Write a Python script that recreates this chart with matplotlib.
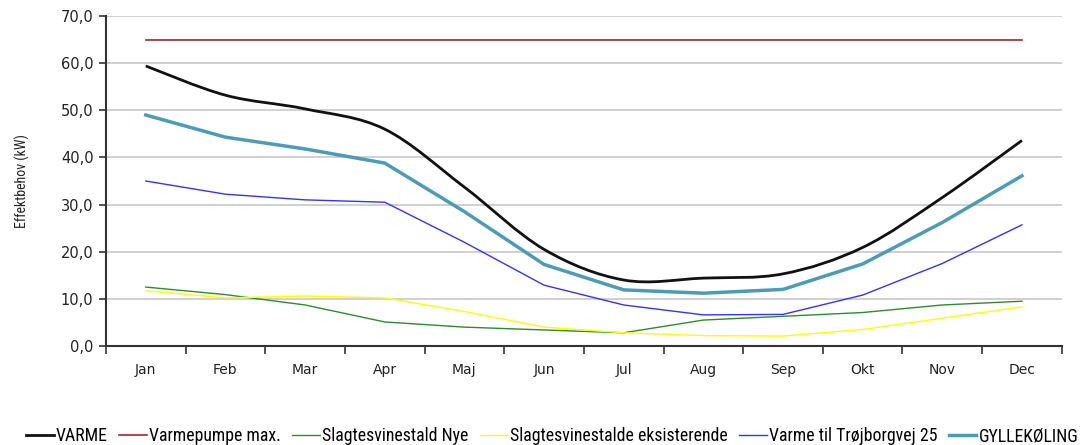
import numpy as np
import matplotlib
matplotlib.use('Agg')
import matplotlib.pyplot as plt
from matplotlib.path import Path
from matplotlib.patches import PathPatch
from matplotlib.lines import Line2D
from matplotlib.ticker import FuncFormatter, MultipleLocator
from matplotlib import font_manager

months = ['Jan', 'Feb', 'Mar', 'Apr', 'Maj', 'Jun', 'Jul', 'Aug', 'Sep', 'Okt', 'Nov', 'Dec']

varme = [59.4, 53.2, 50.3, 46.0, 33.7, 20.5, 14.0, 14.4, 15.3, 20.9, 31.5, 43.6]
varmepumpe = [65.0] * 12
slagt_nye = [12.5, 10.9, 8.7, 5.1, 4.0, 3.4, 2.8, 5.5, 6.3, 7.1, 8.7, 9.5]
slagt_eks = [11.7, 10.2, 10.6, 10.2, 7.3, 4.0, 2.8, 2.2, 2.1, 3.5, 5.9, 8.3]
trojborg = [35.0, 32.2, 31.0, 30.5, 22.0, 12.9, 8.7, 6.6, 6.7, 10.8, 17.5, 25.7]
gylle = [49.0, 44.3, 41.8, 38.8, 28.5, 17.3, 11.9, 11.2, 12.0, 17.4, 26.2, 36.1]

c_varme = '#111111'
c_pumpe = '#a0282b'
c_nye = '#2e8b2e'
c_eks = '#ffff00'
c_trojborg = '#3333ff'
c_gylle = '#4a9db5'

# narrow font for the legend if there is one
names = {f.name for f in font_manager.fontManager.ttflist}
narrow = [n for n in ['Liberation Sans Narrow', 'DejaVu Sans Condensed', 'Roboto Condensed'] if n in names]
fam = [narrow[0], 'DejaVu Sans'] if narrow else ['DejaVu Sans']

fig = plt.figure(figsize=(10.89, 4.45), dpi=100)
ax = fig.add_axes([0.0973, 0.2225, 0.8777, 0.7415])

x = np.arange(len(months))


def smooth_path(xs, ys):
    # Excel style smoothed line (Catmull-Rom as bezier)
    pts = np.column_stack([xs, ys]).astype(float)
    verts = [pts[0]]
    codes = [Path.MOVETO]
    n = len(pts)
    for i in range(n - 1):
        p0 = pts[i - 1] if i > 0 else pts[i]
        p1 = pts[i]
        p2 = pts[i + 1]
        p3 = pts[i + 2] if i + 2 < n else pts[i + 1]
        c1 = p1 + (p2 - p0) / 6.0
        c2 = p2 - (p3 - p1) / 6.0
        verts += [c1, c2, p2]
        codes += [Path.CURVE4] * 3
    return Path(verts, codes)


ax.plot(x, varmepumpe, color=c_pumpe, lw=1.2, zorder=3)
ax.plot(x, slagt_nye, color=c_nye, lw=1.0, zorder=3)
ax.plot(x, slagt_eks, color=c_eks, lw=1.0, zorder=3)
ax.plot(x, trojborg, color=c_trojborg, lw=1.0, zorder=3)
ax.plot(x, gylle, color=c_gylle, lw=2.5, zorder=3)
ax.add_patch(PathPatch(smooth_path(x, varme), facecolor='none', edgecolor=c_varme, lw=2.0, zorder=4))

ax.set_xlim(-0.5, 11.5)
ax.set_ylim(0, 70)
ax.yaxis.set_major_locator(MultipleLocator(10))
ax.yaxis.set_major_formatter(FuncFormatter(lambda v, p: f'{v:.1f}'.replace('.', ',')))
ax.set_xticks(np.arange(-0.5, 12, 1.0))
ax.set_xticklabels([])
ax.set_xticks(x, minor=True)
ax.set_xticklabels(months, minor=True)
ax.tick_params(axis='x', which='major', length=6, width=1.2, color='#333333', direction='out')
ax.tick_params(axis='x', which='minor', length=0, pad=12, labelsize=10, labelcolor='#222222')
ax.tick_params(axis='y', length=5, width=1.2, color='#333333', labelsize=10.5, labelcolor='#222222', pad=4)

ax.grid(axis='y', color='#c8c8c8', lw=1.2)
ax.set_axisbelow(True)
for s in ['top', 'right']:
    ax.spines[s].set_visible(False)
for s in ['left', 'bottom']:
    ax.spines[s].set_color('#333333')
    ax.spines[s].set_linewidth(1.5)

ax.set_ylabel('Effektbehov (kW)', fontsize=10, color='#222222', labelpad=22, family=fam)

handles = [
    Line2D([], [], color=c_varme, lw=2.0),
    Line2D([], [], color=c_pumpe, lw=1.2),
    Line2D([], [], color=c_nye, lw=1.0),
    Line2D([], [], color=c_eks, lw=1.0),
    Line2D([], [], color=c_trojborg, lw=1.0),
    Line2D([], [], color=c_gylle, lw=2.5),
]
labels = ['VARME', 'Varmepumpe max.', 'Slagtesvinestald Nye', 'Slagtesvinestalde eksisterende',
          'Varme til Trøjborgvej 25', 'GYLLEKØLING']
fig.legend(handles, labels, loc='center', bbox_to_anchor=(0.507, 0.02), ncol=6, frameon=False,
           handlelength=1.55, handletextpad=0.12, columnspacing=0.65,
           borderpad=0.1, prop={'family': fam, 'size': 12.8})

fig.savefig('out.png', dpi=100)
